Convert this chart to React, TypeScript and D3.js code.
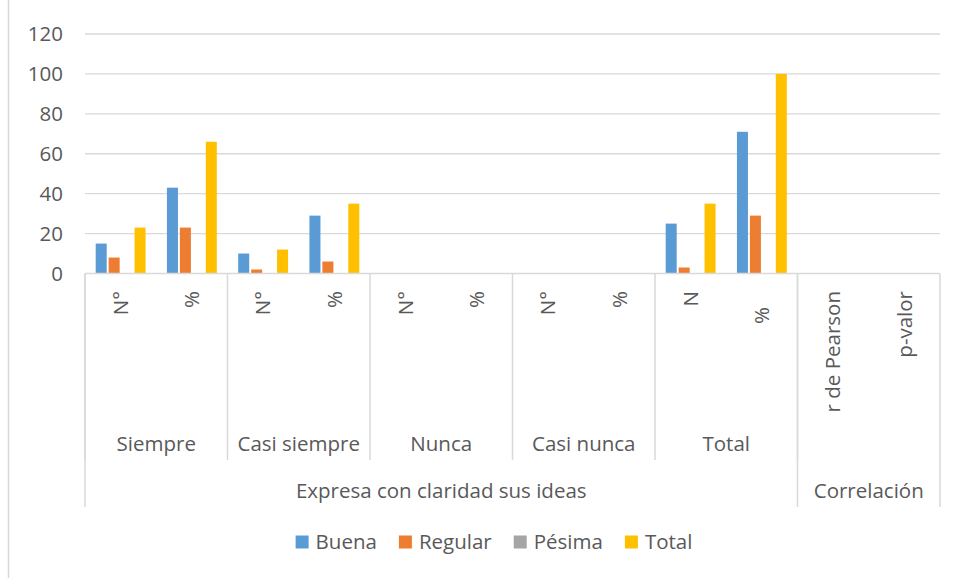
import React, { useRef, useEffect } from 'react'
import * as d3 from 'd3'

// categories (level 1 / level 2 / level 3 of the category axis)
const subLabels = ['N°', '%', 'N°', '%', 'N°', '%', 'N°', '%', 'N', '%   ', 'r de Pearson', 'p-valor']
const groups = ['Siempre', 'Casi siempre', 'Nunca', 'Casi nunca', 'Total']
const groupSpan = [2, 2, 2, 2, 2]
const topGroups = ['Expresa con claridad sus ideas', 'Correlación']
const topSpan = [10, 2]

const seriesNames = ['Buena', 'Regular', 'Pésima', 'Total']
const buena = [15, 43, 10, 29, null, null, null, null, 25, 71, null, null]
const regular = [8, 23, 2, 6, null, null, null, null, 3, 29, null, null]
const pesima = [0, 0, 0, 0, null, null, null, null, 0, 0, null, null]
const total = [23, 66, 12, 35, null, null, null, null, 35, 100, null, null]
const yTicks = [0, 20, 40, 60, 80, 100, 120]

const colors = ['#5B9BD5', '#ED7D31', '#A5A5A5', '#FFC000']
const FONT = "'Open Sans', 'DejaVu Sans', sans-serif"
const FS = 20.5
const TXT = '#595959'
const LINE = '#d9d9d9'

function App() {
  const svgRef = useRef<SVGSVGElement>(null)

  useEffect(() => {
    const svg = d3.select(svgRef.current)
    svg.selectAll('*').remove()

    const left = 85, right = 940, top = 34, bottom = 273.5
    const series = [buena, regular, pesima, total]

    const x = d3.scaleBand<number>().domain(d3.range(subLabels.length)).range([left, right]).padding(0)
    const cw = x.bandwidth()
    const inner = d3.scaleBand<number>().domain(d3.range(series.length))
      .range([cw * 0.15, cw * 0.85]).paddingInner(0.15)
    const y = d3.scaleLinear().domain([0, 120]).range([bottom, top])

    // chart border (left edge only visible)
    svg.append('line').attr('x1', 8.5).attr('x2', 8.5).attr('y1', 0).attr('y2', 578)
      .attr('stroke', LINE).attr('stroke-width', 1.5)

    // gridlines
    svg.append('g').selectAll('line').data(yTicks.filter(d => d > 0)).join('line')
      .attr('x1', left).attr('x2', right)
      .attr('y1', d => y(d)).attr('y2', d => y(d))
      .attr('stroke', LINE).attr('stroke-width', 1.3)

    // y tick labels
    svg.append('g').selectAll('text').data(yTicks).join('text')
      .attr('x', 63).attr('y', d => y(d)).attr('dy', '0.35em')
      .attr('text-anchor', 'end').attr('font-family', FONT).attr('font-size', FS)
      .attr('fill', TXT).text(d => d)

    // bars
    series.forEach((vals, si) => {
      svg.append('g').selectAll('rect')
        .data(vals.map((v, i) => ({ v, i })).filter(d => d.v != null && d.v > 0))
        .join('rect')
        .attr('x', d => (x(d.i) as number) + (inner(si) as number))
        .attr('width', inner.bandwidth())
        .attr('y', d => y(d.v as number))
        .attr('height', d => bottom - y(d.v as number))
        .attr('fill', colors[si])
    })

    // category axis line
    svg.append('line').attr('x1', left).attr('x2', right).attr('y1', bottom).attr('y2', bottom)
      .attr('stroke', LINE).attr('stroke-width', 1.5)

    // level 1 labels (rotated)
    svg.append('g').selectAll('text').data(subLabels).join('text')
      .attr('transform', (d, i) => `translate(${(x(i) as number) + cw / 2},291) rotate(-90)`)
      .attr('text-anchor', 'end').attr('dy', '0.35em')
      .attr('font-family', FONT).attr('font-size', FS).attr('fill', TXT)
      .style('white-space', 'pre').text(d => d)

    // level 2 separators and labels
    let idx = 0
    const sepX: number[] = [left]
    const gLab = svg.append('g')
    groups.forEach((g, gi) => {
      const x0 = x(idx) as number
      const x1 = x0 + cw * groupSpan[gi]
      gLab.append('text').attr('x', (x0 + x1) / 2).attr('y', 451)
        .attr('text-anchor', 'middle').attr('font-family', FONT).attr('font-size', FS)
        .attr('fill', TXT).text(g)
      idx += groupSpan[gi]
      sepX.push(x1)
    })
    svg.append('g').selectAll('line').data(sepX).join('line')
      .attr('x1', d => d).attr('x2', d => d).attr('y1', bottom).attr('y2', 460)
      .attr('stroke', LINE).attr('stroke-width', 1.5)

    // level 3 separators and labels
    idx = 0
    const topSep: number[] = [left]
    topGroups.forEach((g, gi) => {
      const x0 = x(idx) as number
      const x1 = x0 + cw * topSpan[gi]
      gLab.append('text').attr('x', (x0 + x1) / 2).attr('y', 498)
        .attr('text-anchor', 'middle').attr('font-family', FONT).attr('font-size', FS)
        .attr('fill', TXT).text(g)
      idx += topSpan[gi]
      topSep.push(x1)
    })
    svg.append('g').selectAll('line').data(topSep).join('line')
      .attr('x1', d => d).attr('x2', d => d).attr('y1', bottom).attr('y2', 507)
      .attr('stroke', LINE).attr('stroke-width', 1.5)

    // legend
    const leg = svg.append('g')
    const items = seriesNames.map((name, i) => {
      const it = leg.append('g')
      it.append('rect').attr('x', 0).attr('y', -13.5).attr('width', 13).attr('height', 13).attr('fill', colors[i])
      const t = it.append('text').attr('x', 20).attr('y', 0).attr('font-family', FONT)
        .attr('font-size', FS).attr('fill', TXT).text(name)
      const w = 20 + (t.node() as SVGTextElement).getComputedTextLength()
      return { it, w }
    })
    const gap = 22
    const totalW = d3.sum(items, d => d.w) + gap * (items.length - 1)
    let cx = 494 - totalW / 2
    items.forEach(({ it, w }) => {
      it.attr('transform', `translate(${cx},549)`)
      cx += w + gap
    })
  }, [])

  return (
    <svg ref={svgRef} width={960} height={578}
      style={{ position: 'absolute', left: 0, top: 0, background: '#fff' }} />
  )
}

export default App
